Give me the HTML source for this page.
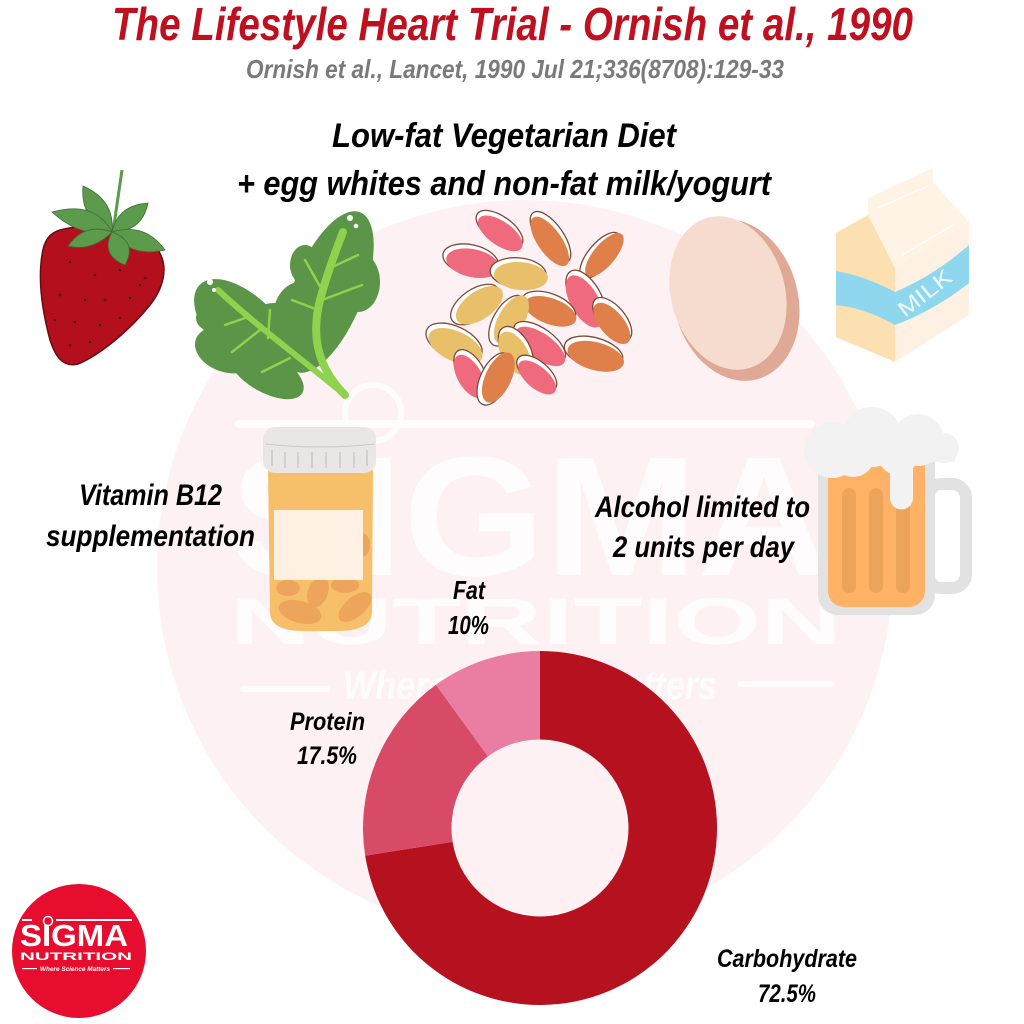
<!DOCTYPE html>
<html><head><meta charset="utf-8"><style>
html,body{margin:0;padding:0;background:#fff;}
svg{display:block;}
text{font-family:"Liberation Sans Narrow","Liberation Sans",sans-serif;font-style:italic;font-weight:bold;}
</style></head><body>
<svg width="1024" height="1024" viewBox="0 0 1024 1024" xmlns="http://www.w3.org/2000/svg">
<rect width="1024" height="1024" fill="#fff"/>

<!-- watermark -->
<circle cx="525" cy="568" r="368" fill="#fdf1f3"/>
<g fill="#fff" opacity="0.85">
  <rect x="235" y="420" width="580" height="8" rx="4"/>
  <circle cx="373" cy="413" r="28" fill="none" stroke="#fff" stroke-width="6"/>
  <text x="230" y="575" font-size="170" textLength="600" lengthAdjust="spacingAndGlyphs" style="font-style:normal">SIGMA</text>
  <text x="230" y="644" font-size="66" textLength="612" lengthAdjust="spacingAndGlyphs" style="font-style:normal">NUTRITION</text>
  <text x="343" y="699" font-size="40" textLength="374" lengthAdjust="spacingAndGlyphs">Where Science Matters</text>
  <rect x="240" y="686" width="90" height="6" rx="3"/>
  <rect x="737" y="681" width="98" height="6" rx="3"/>
</g>

<!-- titles -->
<text x="112" y="40" font-size="46" fill="#bf1020" textLength="801" lengthAdjust="spacingAndGlyphs">The Lifestyle Heart Trial - Ornish et al., 1990</text>
<text x="246" y="78" font-size="26" fill="#7a7a7a" textLength="538" lengthAdjust="spacingAndGlyphs">Ornish et al., Lancet, 1990 Jul 21;336(8708):129-33</text>
<text x="332" y="147" font-size="34" fill="#000" textLength="344" lengthAdjust="spacingAndGlyphs">Low-fat Vegetarian Diet</text>
<text x="237" y="195" font-size="34" fill="#000" textLength="534" lengthAdjust="spacingAndGlyphs">+ egg whites and non-fat milk/yogurt</text>

<!-- strawberry -->
<path d="M60 230 C90 222 140 225 158 250 C170 268 162 290 150 305 C130 330 100 355 78 364 C62 368 55 355 50 340 C42 310 38 280 42 255 C44 240 50 233 60 230 Z" fill="#b30f1d" stroke="#6a0a12" stroke-width="1.5"/>
<g fill="#4a0a10">
  <circle cx="70" cy="262" r="1.3"/><circle cx="95" cy="275" r="1.3"/><circle cx="120" cy="270" r="1.3"/>
  <circle cx="145" cy="278" r="1.3"/><circle cx="60" cy="295" r="1.3"/><circle cx="85" cy="300" r="1.3"/>
  <circle cx="105" cy="300" r="1.3"/><circle cx="130" cy="298" r="1.3"/><circle cx="75" cy="322" r="1.3"/>
  <circle cx="100" cy="325" r="1.3"/><circle cx="120" cy="318" r="1.3"/><circle cx="70" cy="345" r="1.3"/>
  <circle cx="90" cy="342" r="1.3"/><circle cx="140" cy="285" r="1.3"/><circle cx="55" cy="320" r="1.3"/>
</g>
<line x1="122" y1="170" x2="113" y2="232" stroke="#5b9b4b" stroke-width="3"/>
<g fill="#5b9b4b" stroke="#3e6e34" stroke-width="0.8">
  <path d="M112 232 Q80 220 83 186 Q115 200 112 232 Z"/>
  <path d="M112 232 Q80 238 52 212 Q95 200 112 232 Z"/>
  <path d="M112 232 Q118 205 148 203 Q142 232 112 232 Z"/>
  <path d="M112 232 Q145 222 165 250 Q130 258 112 232 Z"/>
  <path d="M112 232 Q138 242 125 265 Q100 255 112 232 Z"/>
  <path d="M112 232 Q92 252 68 246 Q85 222 112 232 Z"/>
</g>

<!-- spinach -->
<g fill="#5a9548">
  <ellipse cx="245" cy="330" rx="64" ry="33" transform="rotate(45 245 330)"/>
  <ellipse cx="226" cy="350" rx="32" ry="22" transform="rotate(20 226 350)"/>
  <ellipse cx="266" cy="372" rx="42" ry="20" transform="rotate(30 266 372)"/>
  <ellipse cx="275" cy="330" rx="32" ry="27"/>
  <ellipse cx="214" cy="318" rx="18" ry="14"/>
  <ellipse cx="328" cy="292" rx="86" ry="35" transform="rotate(-68 328 292)"/>
  <ellipse cx="358" cy="282" rx="22" ry="30"/>
  <ellipse cx="300" cy="318" rx="27" ry="36"/>
  <ellipse cx="345" cy="245" rx="20" ry="25"/>
  <ellipse cx="305" cy="265" rx="15" ry="20"/>
</g>
<g fill="none" stroke="#8ed24e" stroke-linecap="round">
  <path d="M345 395 C320 370 310 340 320 300 C328 270 338 245 343 232" stroke-width="8"/>
  <path d="M218 290 C250 320 290 350 345 395" stroke-width="6"/>
  <path d="M322 290 L305 260 M318 310 L292 300 M330 268 L358 255 M322 300 L362 285" stroke-width="2.5"/>
  <path d="M245 318 L225 325 M268 338 L270 310 M290 358 L262 372 M260 330 L232 352" stroke-width="2.5"/>
</g>
<circle cx="350" cy="218" r="3" fill="#fff"/><circle cx="356" cy="226" r="2.3" fill="#fff"/>
<circle cx="210" cy="282" r="3" fill="#fff"/><circle cx="214" cy="290" r="2" fill="#fff"/>

<!-- beans -->
<defs>
  <g id="b"></g>
</defs>
<g stroke-width="1.3">
  <g transform="rotate(35 500 232)"><ellipse cx="498" cy="230" rx="27" ry="13" fill="#fff" stroke="#7a4a3a"/><ellipse cx="501" cy="233" rx="26" ry="12" fill="#ee6a7c"/></g>
  <g transform="rotate(55 550 240)"><ellipse cx="548" cy="238" rx="30" ry="13" fill="#fff" stroke="#7a4a3a"/><ellipse cx="551" cy="241" rx="29" ry="12" fill="#df804a"/></g>
  <g transform="rotate(-50 603 255)"><ellipse cx="601" cy="253" rx="28" ry="12" fill="#fff" stroke="#7a4a3a"/><ellipse cx="604" cy="256" rx="27" ry="11" fill="#df804a"/></g>
  <g transform="rotate(12 472 262)"><ellipse cx="470" cy="260" rx="28" ry="15" fill="#fff" stroke="#7a4a3a"/><ellipse cx="473" cy="263" rx="27" ry="14" fill="#ee6a7c"/></g>
  <g transform="rotate(5 520 275)"><ellipse cx="518" cy="273" rx="28" ry="15" fill="#fff" stroke="#7a4a3a"/><ellipse cx="521" cy="276" rx="27" ry="14" fill="#e8c06a"/></g>
  <g transform="rotate(60 585 300)"><ellipse cx="583" cy="298" rx="30" ry="15" fill="#fff" stroke="#7a4a3a"/><ellipse cx="586" cy="301" rx="29" ry="14" fill="#ee6a7c"/></g>
  <g transform="rotate(-35 478 305)"><ellipse cx="476" cy="303" rx="28" ry="15" fill="#fff" stroke="#7a4a3a"/><ellipse cx="479" cy="306" rx="27" ry="14" fill="#e8c06a"/></g>
  <g transform="rotate(20 550 310)"><ellipse cx="548" cy="308" rx="28" ry="14" fill="#fff" stroke="#7a4a3a"/><ellipse cx="551" cy="311" rx="27" ry="13" fill="#df804a"/></g>
  <g transform="rotate(-60 510 320)"><ellipse cx="508" cy="318" rx="28" ry="14" fill="#fff" stroke="#7a4a3a"/><ellipse cx="511" cy="321" rx="27" ry="13" fill="#e8c06a"/></g>
  <g transform="rotate(50 612 322)"><ellipse cx="610" cy="320" rx="26" ry="13" fill="#fff" stroke="#7a4a3a"/><ellipse cx="613" cy="323" rx="25" ry="12" fill="#df804a"/></g>
  <g transform="rotate(25 455 345)"><ellipse cx="453" cy="343" rx="30" ry="16" fill="#fff" stroke="#7a4a3a"/><ellipse cx="456" cy="346" rx="29" ry="15" fill="#e8c06a"/></g>
  <g transform="rotate(35 540 345)"><ellipse cx="538" cy="343" rx="30" ry="14" fill="#fff" stroke="#7a4a3a"/><ellipse cx="541" cy="346" rx="29" ry="13" fill="#ee6a7c"/></g>
  <g transform="rotate(60 515 352)"><ellipse cx="513" cy="350" rx="25" ry="14" fill="#fff" stroke="#7a4a3a"/><ellipse cx="516" cy="353" rx="24" ry="13" fill="#e8c06a"/></g>
  <g transform="rotate(15 595 355)"><ellipse cx="593" cy="353" rx="30" ry="15" fill="#fff" stroke="#7a4a3a"/><ellipse cx="596" cy="356" rx="29" ry="14" fill="#df804a"/></g>
  <g transform="rotate(60 470 375)"><ellipse cx="468" cy="373" rx="25" ry="13" fill="#fff" stroke="#7a4a3a"/><ellipse cx="471" cy="376" rx="24" ry="12" fill="#ee6a7c"/></g>
  <g transform="rotate(40 537 376)"><ellipse cx="535" cy="374" rx="24" ry="12" fill="#fff" stroke="#7a4a3a"/><ellipse cx="538" cy="377" rx="23" ry="11" fill="#ee6a7c"/></g>
  <g transform="rotate(-65 497 378)"><ellipse cx="495" cy="376" rx="28" ry="14" fill="#fff" stroke="#7a4a3a"/><ellipse cx="498" cy="379" rx="27" ry="13" fill="#df804a"/></g>
</g>

<!-- egg -->
<ellipse cx="736" cy="300" rx="62" ry="82" transform="rotate(-15 736 300)" fill="#dfa996"/>
<ellipse cx="728" cy="293" rx="57" ry="78" transform="rotate(-15 728 293)" fill="#f6dccf"/>

<!-- milk carton -->
<polygon points="868,215 868,198 933,168 933,182 969,222 895,268" fill="#fff3e6"/>
<polygon points="836,233 868,215 895,268 895,362 836,337" fill="#fde0b2"/>
<polygon points="895,268 969,222 969,315 895,362" fill="#fef0e2"/>
<path d="M836 271 Q865 276 895 292 L895 325 Q865 308 836 305 Z" fill="#8fd6ef"/>
<path d="M895 292 Q935 275 969 245 L969 283 Q935 310 895 325 Z" fill="#8fd6ef"/>
<line x1="878" y1="208" x2="928" y2="186" stroke="#fff" stroke-width="1.2"/>
<line x1="902" y1="255" x2="955" y2="224" stroke="#fff" stroke-width="1.2"/>
<text x="905" y="318" font-size="22" fill="#eef9fd" transform="rotate(-38 905 318)" style="font-style:normal;font-weight:normal" textLength="62" lengthAdjust="spacingAndGlyphs">MILK</text>

<!-- pill bottle -->
<path d="M268 470 L373 470 L372 612 Q372 630 340 631 L300 631 Q270 630 270 612 Z" fill="#f8bf6b"/>
<g fill="#eca55a">
  <ellipse cx="300" cy="612" rx="22" ry="11" transform="rotate(15 300 612)"/>
  <ellipse cx="318" cy="592" rx="10" ry="16" transform="rotate(20 318 592)"/>
  <ellipse cx="355" cy="607" rx="20" ry="10" transform="rotate(-40 355 607)"/>
  <ellipse cx="288" cy="588" rx="12" ry="8"/>
  <ellipse cx="362" cy="545" rx="8" ry="12"/>
  <ellipse cx="345" cy="585" rx="14" ry="8"/>
</g>
<rect x="274" y="510" width="89" height="70" fill="#fef0e3"/>
<rect x="263" y="427" width="113" height="46" rx="12" fill="#ebe6e6"/>
<g stroke="#c8bebe" stroke-width="1.2">
  <line x1="272" y1="450" x2="272" y2="466"/><line x1="285" y1="452" x2="285" y2="468"/>
  <line x1="298" y1="452" x2="298" y2="468"/><line x1="312" y1="452" x2="312" y2="468"/>
  <line x1="326" y1="452" x2="326" y2="468"/><line x1="340" y1="452" x2="340" y2="468"/>
  <line x1="354" y1="452" x2="354" y2="468"/><line x1="367" y1="450" x2="367" y2="466"/>
</g>
<path d="M266 444 Q320 450 374 444" stroke="#d0c6c6" stroke-width="1" fill="none"/>

<!-- beer -->
<rect x="928" y="484" width="38" height="104" rx="14" fill="none" stroke="#e2e2e2" stroke-width="12"/>
<rect x="818" y="440" width="117" height="175" rx="20" fill="#e2e2e2"/>
<rect x="828" y="440" width="97" height="167" rx="16" fill="#ffb266"/>
<g fill="#eca558">
  <rect x="842" y="488" width="14" height="105" rx="7"/>
  <rect x="869" y="488" width="14" height="105" rx="7"/>
  <rect x="896" y="488" width="14" height="105" rx="7"/>
</g>
<g fill="#f2f2f2">
  <rect x="805" y="440" width="150" height="22"/>
  <circle cx="832" cy="450" r="28"/>
  <circle cx="872" cy="437" r="30"/>
  <circle cx="918" cy="440" r="26"/>
  <circle cx="944" cy="448" r="15"/>
  <circle cx="853" cy="455" r="22"/>
  <circle cx="898" cy="455" r="20"/>
  <rect x="890" y="440" width="23" height="60"/>
  <circle cx="901.5" cy="498" r="11.5"/>
</g>

<!-- side labels -->
<text x="79" y="505" font-size="30" fill="#000" textLength="143" lengthAdjust="spacingAndGlyphs">Vitamin B12</text>
<text x="46" y="546" font-size="30" fill="#000" textLength="209" lengthAdjust="spacingAndGlyphs">supplementation</text>
<text x="595" y="517" font-size="30" fill="#000" textLength="215" lengthAdjust="spacingAndGlyphs">Alcohol limited to</text>
<text x="613" y="557" font-size="30" fill="#000" textLength="181" lengthAdjust="spacingAndGlyphs">2 units per day</text>

<!-- donut -->
<path d="M540 651 A177 177 0 1 1 365.18 855.69 L452.59 841.84 A88.5 88.5 0 1 0 540 739.5 Z" fill="#b5111e"/>
<path d="M365.18 855.69 A177 177 0 0 1 435.96 684.80 L487.98 756.40 A88.5 88.5 0 0 0 452.59 841.84 Z" fill="#d84b66"/>
<path d="M435.96 684.80 A177 177 0 0 1 540 651 L540 739.5 A88.5 88.5 0 0 0 487.98 756.40 Z" fill="#e97da2"/>

<text x="453" y="599" font-size="26" fill="#000" textLength="32" lengthAdjust="spacingAndGlyphs">Fat</text>
<text x="448" y="634" font-size="26" fill="#000" textLength="41" lengthAdjust="spacingAndGlyphs">10%</text>
<text x="290" y="730" font-size="25" fill="#000" textLength="75" lengthAdjust="spacingAndGlyphs">Protein</text>
<text x="297" y="764" font-size="25" fill="#000" textLength="60" lengthAdjust="spacingAndGlyphs">17.5%</text>
<text x="717" y="967" font-size="25" fill="#000" textLength="140" lengthAdjust="spacingAndGlyphs">Carbohydrate</text>
<text x="758" y="1002" font-size="25" fill="#000" textLength="58" lengthAdjust="spacingAndGlyphs">72.5%</text>

<!-- logo -->
<circle cx="79" cy="951" r="67" fill="#e60d2e"/>
<g fill="#fff">
  <rect x="22" y="919" width="10" height="2"/>
  <rect x="56" y="919" width="76" height="2"/>
  <circle cx="48" cy="921" r="4.5" fill="none" stroke="#fff" stroke-width="1.5"/>
  <text x="20" y="946" font-size="31" style="font-style:normal" textLength="108" lengthAdjust="spacingAndGlyphs">SIGMA</text>
  <text x="20" y="960" font-size="11" style="font-style:normal" textLength="112" lengthAdjust="spacingAndGlyphs">NUTRITION</text>
  <text x="40" y="971" font-size="6.5" textLength="70" lengthAdjust="spacingAndGlyphs">Where Science Matters</text>
  <rect x="22" y="968" width="15" height="1.2"/>
  <rect x="113" y="968" width="17" height="1.2"/>
</g>
</svg>
</body></html>
